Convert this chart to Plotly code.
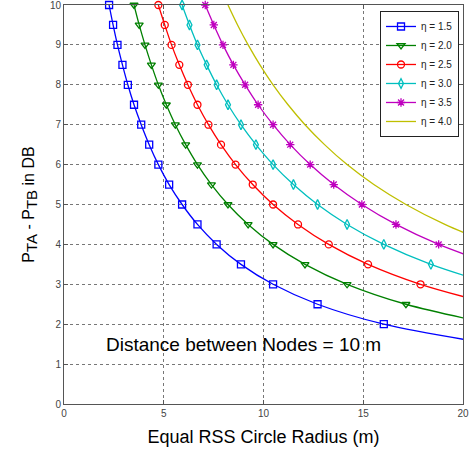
import plotly.graph_objects as go

# P_TA - P_TB (dB) levels where the markers sit
dp_15 = [10, 9.5, 9, 8.5, 8, 7.5, 7, 6.5, 6, 5.5, 5, 4.5, 4, 3.5, 3, 2.5, 2, 1.5]
r_15 = [2.26, 2.46, 2.68, 2.93, 3.20, 3.51, 3.87, 4.27, 4.73, 5.27, 5.92, 6.69, 7.65, 8.87, 10.48, 12.71, 16.03, 21.52]

dp_20 = [10, 9.5, 9, 8.5, 8, 7.5, 7, 6.5, 6, 5.5, 5, 4.5, 4, 3.5, 3, 2.5, 2]
r_20 = [3.51, 3.77, 4.06, 4.38, 4.73, 5.13, 5.58, 6.10, 6.69, 7.39, 8.22, 9.23, 10.48, 12.08, 14.19, 17.14, 21.52]

dp_25 = [10, 9.5, 9, 8.5, 8, 7.5, 7, 6.5, 6, 5.5, 5, 4.5, 4, 3.5, 3, 2.5]
r_25 = [4.73, 5.05, 5.39, 5.78, 6.21, 6.69, 7.24, 7.87, 8.60, 9.46, 10.48, 11.73, 13.27, 15.24, 17.87, 21.52]

dp_30 = [10, 9.5, 9, 8.5, 8, 7.5, 7, 6.5, 6, 5.5, 5, 4.5, 4, 3.5, 3]
r_30 = [5.92, 6.29, 6.69, 7.15, 7.65, 8.22, 8.87, 9.62, 10.48, 11.50, 12.71, 14.19, 16.03, 18.39, 21.52]

dp_35 = [10, 9.5, 9, 8.5, 8, 7.5, 7, 6.5, 6, 5.5, 5, 4.5, 4, 3.5]
r_35 = [7.08, 7.51, 7.97, 8.49, 9.08, 9.73, 10.48, 11.34, 12.34, 13.52, 14.93, 16.64, 18.78, 21.52]

dp_40 = [10, 9.5, 9, 8.5, 8, 7.5, 7, 6.5, 6, 5.5, 5, 4.5, 4]
r_40 = [8.22, 8.70, 9.23, 9.82, 10.48, 11.23, 12.08, 13.06, 14.19, 15.53, 17.14, 19.09, 21.52]

series = [
    ("η = 1.5", r_15, dp_15, "rgb(0,0,255)", "square-open"),
    ("η = 2.0", r_20, dp_20, "rgb(0,128,0)", "triangle-down-open"),
    ("η = 2.5", r_25, dp_25, "rgb(255,0,0)", "circle-open"),
    ("η = 3.0", r_30, dp_30, "rgb(0,191,191)", "diamond-tall-open"),
    ("η = 3.5", r_35, dp_35, "rgb(191,0,191)", "asterisk-open"),
    ("η = 4.0", r_40, dp_40, "rgb(191,191,0)", None),
]

fig = go.Figure()
for name, xs, ys, col, sym in series:
    if sym is None:
        fig.add_trace(go.Scatter(x=xs, y=ys, name=name, mode="lines",
                                 line=dict(color=col, width=1.3, shape="spline")))
    else:
        fig.add_trace(go.Scatter(x=xs, y=ys, name=name, mode="lines+markers",
                                 line=dict(color=col, width=1.3, shape="spline"),
                                 marker=dict(symbol=sym, size=7, color=col,
                                             line=dict(color=col, width=1.3)),
                                 cliponaxis=False))

fig.add_annotation(x=9.0, y=1.5, text="Distance between Nodes = 10 m", showarrow=False,
                   font=dict(size=19, color="black"))

axis_style = dict(showline=True, linecolor="#555", linewidth=1, mirror="ticks",
                  ticks="inside", ticklen=4, tickcolor="#555",
                  showgrid=True, gridcolor="#777", griddash="dot", gridwidth=1,
                  zeroline=False, tickfont=dict(size=10, color="#444"),
                  automargin=False, ticklabeloverflow="allow")

fig.update_xaxes(range=[0, 20], dtick=5, tick0=0,
                 title=dict(text="Equal RSS Circle Radius (m)", font=dict(size=18, color="black"), standoff=12),
                 **axis_style)
fig.update_yaxes(range=[0, 10], dtick=1, tick0=0,
                 title=dict(text="P<sub><span style='font-size:15px'>TA</span></sub> - P<sub><span style='font-size:15px'>TB</span></sub> in DB",
                            font=dict(size=16, color="black"), standoff=11),
                 **axis_style)

fig.update_layout(
    width=476, height=453,
    margin=dict(l=64, r=13, t=5, b=49),
    plot_bgcolor="white", paper_bgcolor="white",
    font=dict(family="Liberation Sans, Arial, sans-serif"),
    legend=dict(x=0.99, y=0.985, xanchor="right", yanchor="top",
                bgcolor="white", bordercolor="#222", borderwidth=1,
                font=dict(size=10, color="#222"), tracegroupgap=0),
)

# the page body has a default 8px margin; drop it so the figure fills the window
fig.write_html("out.html", config={"displayModeBar": False},
               post_script="document.body.style.margin='0';")
